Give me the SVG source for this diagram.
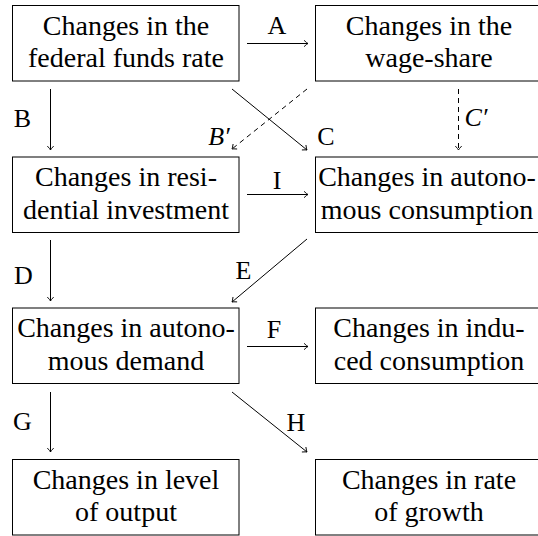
<svg xmlns="http://www.w3.org/2000/svg" width="538" height="536" viewBox="0 0 538 536">
<defs>
<style>
.box{fill:#fff;stroke:#000;stroke-width:1}
text{font-family:'Liberation Serif','Times New Roman',serif;fill:#000;text-anchor:middle}
.t{font-size:28px}
.l{font-size:26px}
.li{font-style:italic}
.c{fill:none;stroke:#000;stroke-width:1;marker-end:url(#ah)}
.d{stroke-dasharray:5,4}
</style>
<marker id="ah" viewBox="-6 -5 8 10" markerWidth="8" markerHeight="10" refX="0" refY="0" orient="auto" markerUnits="userSpaceOnUse">
<path d="M-4,-3.2 Q-1.2,-0.6 0,0 Q-1.2,0.6 -4,3.2" fill="none" stroke="#000" stroke-width="0.9"/>
</marker>
</defs>
<rect width="538" height="536" fill="#fff"/>
<g id="n1"><rect class="box" x="12.5" y="5.5" width="226.5" height="75.5"/><text class="t" x="126" y="34.5">Changes in the</text><text class="t" x="126" y="67">federal funds rate</text></g>
<g id="n2"><rect class="box" x="315.5" y="5.5" width="226.5" height="75.5"/><text class="t" x="429" y="34.5">Changes in the</text><text class="t" x="429" y="67">wage-share</text></g>
<g id="n3"><rect class="box" x="12.5" y="157" width="226.5" height="75.5"/><text class="t" x="126" y="186">Changes in resi-</text><text class="t" x="126" y="218.5">dential investment</text></g>
<g id="n4"><rect class="box" x="315.5" y="157" width="226.5" height="75.5"/><text class="t" x="427" y="186">Changes in autono-</text><text class="t" x="427" y="218.5">mous consumption</text></g>
<g id="n5"><rect class="box" x="12.5" y="308" width="226.5" height="75.5"/><text class="t" x="126" y="337">Changes in autono-</text><text class="t" x="126" y="369.5">mous demand</text></g>
<g id="n6"><rect class="box" x="315.5" y="308" width="226.5" height="75.5"/><text class="t" x="429" y="337">Changes in indu-</text><text class="t" x="429" y="369.5">ced consumption</text></g>
<g id="n7"><rect class="box" x="12.5" y="459.5" width="226.5" height="75.5"/><text class="t" x="126" y="488.5">Changes in level</text><text class="t" x="126" y="521">of output</text></g>
<g id="n8"><rect class="box" x="315.5" y="459.5" width="226.5" height="75.5"/><text class="t" x="429" y="488.5">Changes in rate</text><text class="t" x="429" y="521">of growth</text></g>
<g id="connectors">
<line class="c" x1="247" y1="43.5" x2="308" y2="43.5"/>
<line class="c" x1="247" y1="194.5" x2="308" y2="194.5"/>
<line class="c" x1="247" y1="346.5" x2="308" y2="346.5"/>
<line class="c" x1="50.5" y1="89" x2="50.5" y2="150"/>
<line class="c" x1="50.5" y1="240" x2="50.5" y2="301"/>
<line class="c" x1="50.5" y1="392" x2="50.5" y2="452"/>
<line class="c d" x1="458.5" y1="89" x2="458.5" y2="150"/>
<line class="c" x1="232" y1="89" x2="307" y2="150"/>
<line class="c d" x1="307" y1="89" x2="232" y2="149"/>
<line class="c" x1="307" y1="239" x2="232" y2="302"/>
<line class="c" x1="232" y1="392" x2="307" y2="452"/>
<text class="l" x="277" y="34">A</text>
<text class="l" x="277" y="188.5">I</text>
<text class="l" x="274" y="338">F</text>
<text class="l" x="22.5" y="127">B</text>
<text class="l" x="23.5" y="284">D</text>
<text class="l" x="22.5" y="430">G</text>
<text class="l li" x="219" y="145">B′</text>
<text class="l" x="326" y="145">C</text>
<text class="l li" x="476" y="126">C′</text>
<text class="l" x="243.5" y="279">E</text>
<text class="l" x="296" y="431">H</text>
</g>
</svg>
